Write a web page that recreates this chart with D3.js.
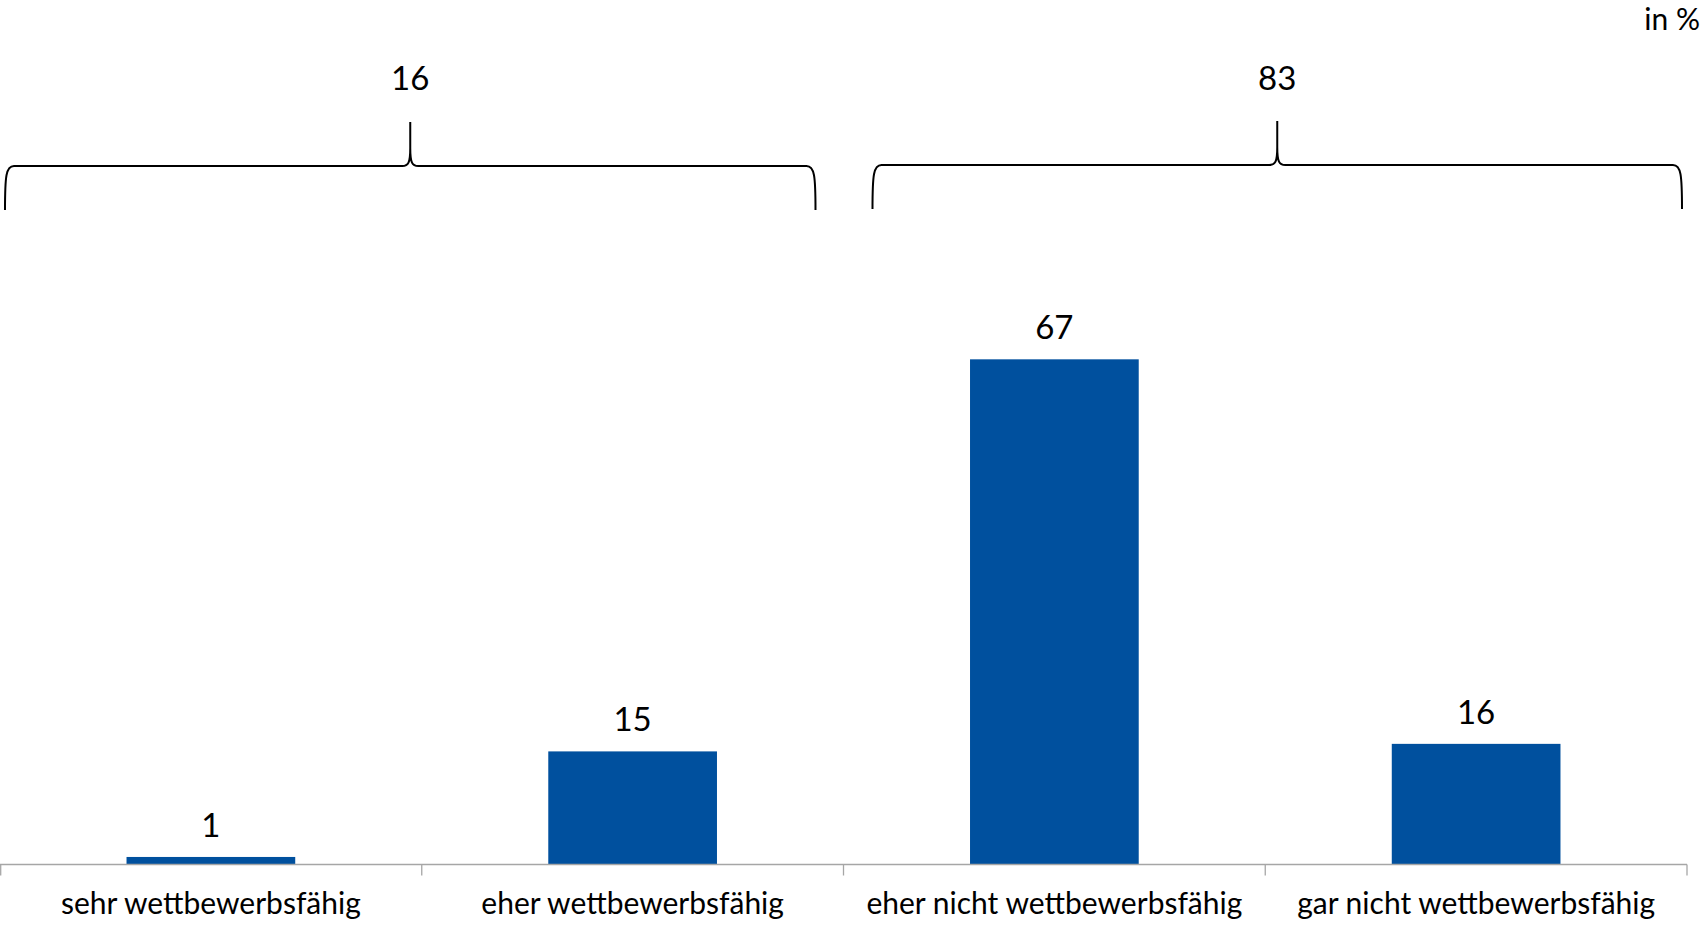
<!DOCTYPE html>
<html><head><meta charset="utf-8">
<script src="https://cdn.jsdelivr.net/npm/d3@7"></script>
<style>
html,body{margin:0;padding:0;background:#fff;}
svg{display:block;}
text{font-family:Lato,"Open Sans",sans-serif;fill:#000;}
</style></head>
<body>
<svg id="chart" width="1703" height="925"></svg>
<script>
const categories = ["sehr wettbewerbsfähig","eher wettbewerbsfähig","eher nicht wettbewerbsfähig","gar nicht wettbewerbsfähig"];
const values = [1, 15, 67, 16];
const groupLabels = ["16", "83"];
const unitLabel = "in %";

const W = 1703, H = 925;
const svg = d3.select("#chart");
const axisY = 864.5;
const x = d3.scaleBand().domain(categories).range([0, 1687]).paddingInner(0.6).paddingOuter(0.3);
const y = d3.scaleLinear().domain([0, 80]).range([axisY, axisY - 80*7.54]);
const color = "#00509e";
const fsNum = 33;
const fsCat = 30;

// bars
svg.selectAll("rect.bar").data(values).join("rect")
  .attr("class","bar")
  .attr("x",(d,i)=>x(categories[i]))
  .attr("width",x.bandwidth())
  .attr("y",d=>y(d))
  .attr("height",d=>axisY-y(d))
  .attr("fill",color);

// value labels
svg.selectAll("text.val").data(values).join("text")
  .attr("class","val")
  .attr("x",(d,i)=>x(categories[i])+x.bandwidth()/2)
  .attr("y",d=>y(d)-20)
  .attr("text-anchor","middle")
  .attr("font-size",fsNum)
  .text(d=>d);

// axis
const step = x.step();
const x0 = x.range()[0];
const bounds = d3.range(categories.length+1).map(i=>x0+i*step);
const axisG = svg.append("g");
axisG.append("line").attr("x1",x0).attr("x2",x.range()[1]).attr("y1",axisY).attr("y2",axisY)
  .attr("stroke","#a6a6a6").attr("stroke-width",1.3);
axisG.selectAll("line.tick").data(bounds).join("line").attr("class","tick")
  .attr("x1",d=>Math.max(d,0.7)).attr("x2",d=>Math.max(d,0.7)).attr("y1",axisY).attr("y2",axisY+11)
  .attr("stroke","#a6a6a6").attr("stroke-width",1.3);
axisG.selectAll("text.cat").data(categories).join("text").attr("class","cat")
  .attr("x",d=>x(d)+x.bandwidth()/2)
  .attr("y",914)
  .attr("text-anchor","middle")
  .attr("font-size",fsCat)
  .text(d=>d);

// braces
function bracePath(a,b,m,h,yb,yt){
  return `M${a},${yb} C${a},${h+10} ${a+1},${h} ${a+9},${h} L${m-8},${h} C${m-2},${h} ${m},${h-3} ${m},${h-18} L${m},${yt} `+
         `M${m},${h-18} C${m},${h-3} ${m+2},${h} ${m+8},${h} L${b-9},${h} C${b-1},${h} ${b},${h+10} ${b},${yb}`;
}
const braceDefs = [
  {a: bounds[0]+5, b: bounds[2]-28, h:166, yb:210, yt:122},
  {a: bounds[2]+29, b: bounds[4]-5, h:165, yb:209, yt:121}
];
braceDefs.forEach((bd,i)=>{
  const m = (bd.a+bd.b)/2;
  svg.append("path").attr("d",bracePath(bd.a,bd.b,m,bd.h,bd.yb,bd.yt))
    .attr("fill","none").attr("stroke","#000").attr("stroke-width",2);
  svg.append("text").attr("x",m).attr("y",90).attr("text-anchor","middle")
    .attr("font-size",fsNum).text(groupLabels[i]);
});

svg.append("text").attr("x",1700).attr("y",30).attr("text-anchor","end")
  .attr("font-size",fsCat).text(unitLabel);
</script>
</body></html>
